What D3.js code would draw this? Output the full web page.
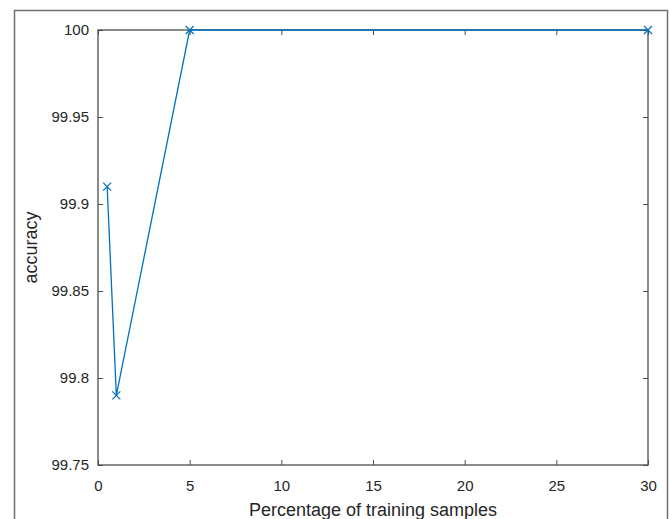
<!DOCTYPE html>
<html>
<head>
<meta charset="utf-8">
<script src="https://cdn.jsdelivr.net/npm/d3@7"></script>
<style>
  body { margin: 0; background: #fff; }
  svg { display: block; font-family: "Liberation Sans", Arial, sans-serif; }
</style>
</head>
<body>
<div id="chart"></div>
<script>
// data
let trainPct = [0.5, 1, 5, 30];
let accuracy = [99.91, 99.79, 100, 100];
let markerIdx = [0, 1, 2, 3];
let xTicks = [0, 5, 10, 15, 20, 25, 30];
let yTicks = [99.75, 99.8, 99.85, 99.9, 99.95, 100];

var W = 670, H = 519;
var margin = {top: 30, right: 22, bottom: 54, left: 98},
    width = 648 - margin.left,
    height = 465 - margin.top;

let svg = d3.select("#chart").append("svg")
    .attr("width", W)
    .attr("height", H);

// outer figure frame
svg.append("rect")
    .attr("x", 14.5).attr("y", 10.5)
    .attr("width", 653).attr("height", 520)
    .attr("fill", "none")
    .attr("stroke", "#707070")
    .attr("stroke-width", 1.5);

let x = d3.scaleLinear().domain([0, 30]).range([0, width]);
let y = d3.scaleLinear().domain([99.75, 100]).range([height, 0]);

let graph = svg.append("g")
    .attr("transform", "translate(" + margin.left + "," + margin.top + ")");

let axisColor = "#4d4d4d";

function styleAxis(g, showLabels) {
    g.select(".domain").remove();
    g.selectAll(".tick line").attr("stroke", axisColor).attr("stroke-width", 1);
    g.selectAll(".tick text")
        .attr("fill", "#262626")
        .style("font-size", "15px")
        .style("font-family", "Liberation Sans, Arial, sans-serif");
    if (!showLabels) g.selectAll(".tick text").remove();
}

// ticks pointing inward on all four sides
graph.append("g")
    .attr("transform", "translate(0," + height + ")")
    .call(d3.axisTop(x).tickValues(xTicks).tickSize(5).tickFormat(d3.format("d")))
    .call(function(g) {
        styleAxis(g, true);
        g.selectAll(".tick text").attr("y", 15).attr("dy", "0.71em");
    });

graph.append("g")
    .call(d3.axisBottom(x).tickValues(xTicks).tickSize(5))
    .call(function(g) { styleAxis(g, false); });

graph.append("g")
    .call(d3.axisRight(y).tickValues(yTicks).tickSize(5).tickFormat(d3.format("~g")))
    .call(function(g) {
        styleAxis(g, true);
        g.selectAll(".tick text").attr("x", -9).attr("text-anchor", "end");
    });

graph.append("g")
    .attr("transform", "translate(" + width + ",0)")
    .call(d3.axisLeft(y).tickValues(yTicks).tickSize(5))
    .call(function(g) { styleAxis(g, false); });

// box
graph.append("rect")
    .attr("x", 0).attr("y", 0)
    .attr("width", width).attr("height", height)
    .attr("fill", "none")
    .attr("stroke", axisColor)
    .attr("stroke-width", 1.3);

let pts = trainPct.map(function(d, i) { return {x: d, y: accuracy[i]}; });

let lineColor = "#0072BD";

graph.append("path")
    .datum(pts)
    .attr("fill", "none")
    .attr("stroke", lineColor)
    .attr("stroke-width", 1.3)
    .attr("d", d3.line().x(function(d) { return x(d.x); }).y(function(d) { return y(d.y); }));

let s = 4;
graph.selectAll(".mk")
    .data(markerIdx.map(function(i) { return pts[i]; }))
    .enter().append("path")
    .attr("class", "mk")
    .attr("fill", "none")
    .attr("stroke", lineColor)
    .attr("stroke-width", 1.2)
    .attr("d", function(d) {
        let cx = x(d.x), cy = y(d.y);
        return "M" + (cx - s) + "," + (cy - s) + "L" + (cx + s) + "," + (cy + s) +
               "M" + (cx - s) + "," + (cy + s) + "L" + (cx + s) + "," + (cy - s);
    });

// axis labels
svg.append("text")
    .attr("x", margin.left + width / 2)
    .attr("y", 516)
    .attr("text-anchor", "middle")
    .attr("fill", "#262626")
    .style("font-size", "18px")
    .text("Percentage of training samples");

svg.append("text")
    .attr("transform", "translate(37," + (margin.top + height / 2) + ") rotate(-90)")
    .attr("text-anchor", "middle")
    .attr("fill", "#262626")
    .style("font-size", "18px")
    .text("accuracy");
</script>
</body>
</html>
